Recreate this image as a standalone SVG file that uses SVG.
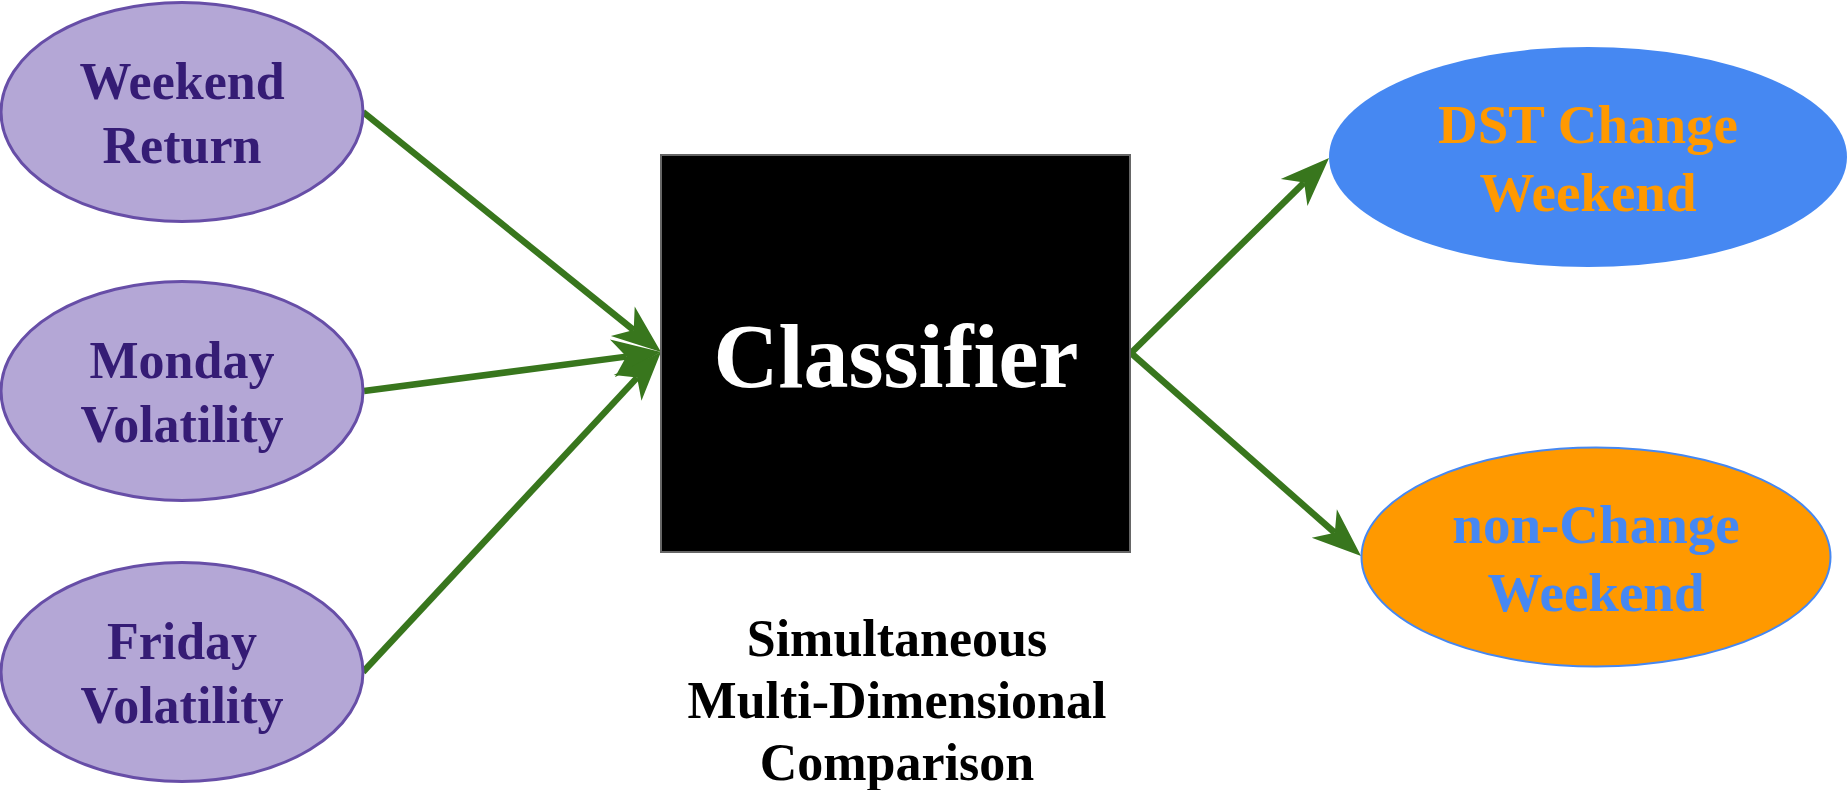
<svg xmlns="http://www.w3.org/2000/svg" width="1847" height="790" viewBox="0 0 1847 790">
  <style>
    .lbl { font-family: "Liberation Serif", "Times New Roman", serif; font-weight: bold; text-anchor: middle; }
    .input ellipse { fill: #b4a7d6; stroke: #674ea7; stroke-width: 3; }
    .input text { fill: #351c75; font-size: 52px; }
    .edge { stroke: #38761d; stroke-width: 6.5; fill: none; marker-end: url(#dart); }
  </style>
  <defs>
    <!-- notched dart head; reference point is the notch where the shaft ends -->
    <marker id="dart" markerUnits="userSpaceOnUse" viewBox="-20 -25 60 50" markerWidth="60" markerHeight="50" refX="0" refY="0" orient="auto" overflow="visible">
      <path d="M35,0 L-14,-19 L0,0 L-14,19 Z" fill="#38761d"/>
    </marker>
  </defs>

  <rect width="1847" height="790" fill="#ffffff"/>

  <!-- connectors -->
  <g id="connectors">
    <line class="edge" x1="363" y1="112" x2="633.7" y2="330.1"/>
    <line class="edge" x1="364" y1="391" x2="626.3" y2="356.6"/>
    <line class="edge" x1="363" y1="672" x2="637.1" y2="377.6"/>
    <line class="edge" x1="1131" y1="353" x2="1304.1" y2="182.6"/>
    <line class="edge" x1="1131" y1="353" x2="1334.8" y2="532.8"/>
  </g>

  <!-- input features -->
  <g id="weekend-return" class="input">
    <ellipse cx="182" cy="112" rx="181" ry="109.5"/>
    <text class="lbl" x="182" y="99">Weekend</text>
    <text class="lbl" x="182" y="163">Return</text>
  </g>
  <g id="monday-volatility" class="input">
    <ellipse cx="182" cy="391" rx="181" ry="109.5"/>
    <text class="lbl" x="182" y="378">Monday</text>
    <text class="lbl" x="182" y="442">Volatility</text>
  </g>
  <g id="friday-volatility" class="input">
    <ellipse cx="182" cy="672" rx="181" ry="109.5"/>
    <text class="lbl" x="182" y="659">Friday</text>
    <text class="lbl" x="182" y="723">Volatility</text>
  </g>

  <!-- classifier block -->
  <g id="classifier">
    <rect x="661" y="155" width="469" height="397" fill="#000000" stroke="#666666" stroke-width="2"/>
    <text class="lbl" x="896" y="387" font-size="90" fill="#ffffff">Classifier</text>
  </g>

  <!-- outputs -->
  <g id="dst-change-weekend">
    <ellipse cx="1588" cy="157" rx="259" ry="110" fill="#4688f2"/>
    <text class="lbl" x="1588" y="143" font-size="55" fill="#ff9900">DST Change</text>
    <text class="lbl" x="1588" y="211" font-size="55" fill="#ff9900">Weekend</text>
  </g>
  <g id="non-change-weekend">
    <ellipse cx="1596" cy="557" rx="234.5" ry="109.5" fill="#ff9900" stroke="#4688f2" stroke-width="2"/>
    <text class="lbl" x="1596" y="543" font-size="55" fill="#4688f2">non-Change</text>
    <text class="lbl" x="1596" y="611" font-size="55" fill="#4688f2">Weekend</text>
  </g>

  <!-- caption -->
  <g id="caption">
    <text class="lbl" x="897" y="656" font-size="52" fill="#000000">Simultaneous</text>
    <text class="lbl" x="897" y="718" font-size="52" fill="#000000">Multi-Dimensional</text>
    <text class="lbl" x="897" y="780" font-size="52" fill="#000000">Comparison</text>
  </g>
</svg>
